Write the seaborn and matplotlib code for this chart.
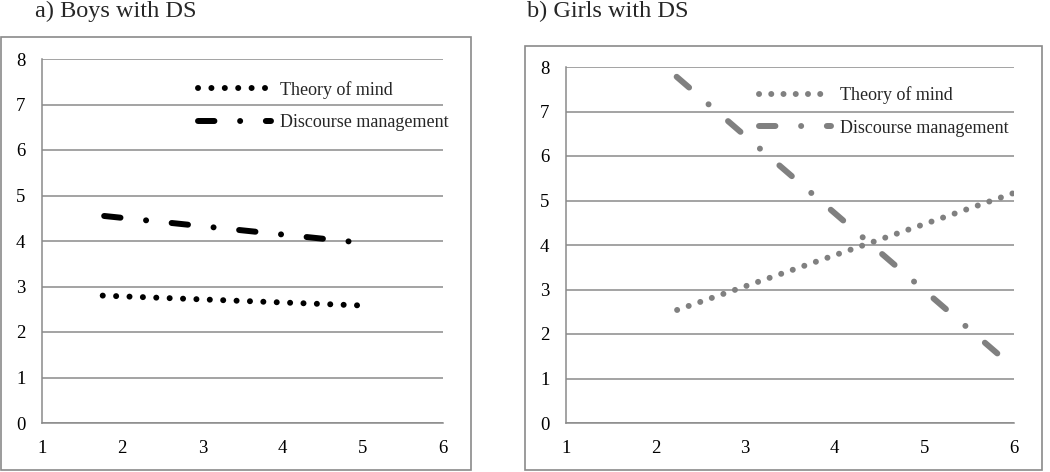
import pandas as pd
import matplotlib.pyplot as plt
import matplotlib.patches as patches
import seaborn as sns

sns.set_style("white")
plt.rcParams["font.family"] = ["Liberation Serif", "DejaVu Serif"]

# trend line end points
boys_x_tom = [1.757, 4.95]
boys_y_tom = [2.80, 2.585]
boys_x_dm = [1.775, 4.83]
boys_y_dm = [4.55, 3.99]

girls_x_tom = [2.24, 6.0]
girls_y_tom = [2.54, 5.17]
girls_x_dm = [2.235, 6.0]
girls_y_dm = [7.78, 1.24]

labels = ["Theory of mind", "Discourse management"]
xticks = [1, 2, 3, 4, 5, 6]
yticks = [0, 1, 2, 3, 4, 5, 6, 7, 8]

GRID = "#8a8a8a"
LW = 4.3
DOT = 0.01  # near-zero dash -> round dot
DM_DASH = (2.75, 4.3, DOT, 4.3)


def series_df(x, y, label):
    return pd.DataFrame({"x": x, "y": y, "series": label})


def draw_panel(ax, tom, dm, color, tom_gap, legend_xy):
    df_tom = series_df(tom[0], tom[1], labels[0])
    df_dm = series_df(dm[0], dm[1], labels[1])
    sns.lineplot(data=df_tom, x="x", y="y", ax=ax, color=color, lw=LW,
                 linestyle=(0, (DOT, tom_gap)), dash_capstyle="round",
                 label=labels[0])
    sns.lineplot(data=df_dm, x="x", y="y", ax=ax, color=color, lw=LW,
                 linestyle=(0, DM_DASH), dash_capstyle="round", label=labels[1])
    ax.set_xlim(1, 6)
    ax.set_ylim(0, 8)
    ax.set_xticks(xticks)
    ax.set_yticks(yticks)
    ax.set_xlabel("")
    ax.set_ylabel("")
    ax.yaxis.grid(True, color=GRID, lw=1.1)
    ax.set_axisbelow(True)
    for s in ["top", "right"]:
        ax.spines[s].set_visible(False)
    for s in ["left", "bottom"]:
        ax.spines[s].set_color(GRID)
        ax.spines[s].set_linewidth(1.1)
    ax.tick_params(axis="both", direction="out", length=4, width=1.1,
                   color=GRID, labelsize=13.5, labelcolor="black", pad=8)
    ax.legend(loc="upper left", bbox_to_anchor=legend_xy, frameon=False,
              fontsize=13, handlelength=4.0, handletextpad=0.5,
              labelspacing=0.85, borderpad=0, borderaxespad=0)


fig = plt.figure(figsize=(10.5, 4.72), dpi=100)
W, H = 1050, 472

ax1 = fig.add_axes([42 / W, (H - 423) / H, 401 / W, 364 / H])
ax2 = fig.add_axes([566 / W, (H - 423) / H, 448 / W, 356 / H])

draw_panel(ax1, (boys_x_tom, boys_y_tom), (boys_x_dm, boys_y_dm),
           "black", 9.6 / LW, (0.39, 0.94))
draw_panel(ax2, (girls_x_tom, girls_y_tom), (girls_x_dm, girls_y_dm),
           "#808080", 8.77 / LW, (0.43, 0.945))

# outer frames round each panel
fig.patches.append(patches.Rectangle((1 / W, 2 / H), 470 / W, 433 / H,
                                     transform=fig.transFigure, fill=False,
                                     edgecolor=GRID, lw=1.2))
fig.patches.append(patches.Rectangle((525 / W, 2 / H), 517 / W, 424 / H,
                                     transform=fig.transFigure, fill=False,
                                     edgecolor=GRID, lw=1.2))

fig.text(35 / W, (H - 17) / H, "a) Boys with DS", fontsize=17.5, va="baseline")
fig.text(527 / W, (H - 17) / H, "b) Girls with DS", fontsize=17.5, va="baseline")

fig.savefig("out.png", dpi=100)
